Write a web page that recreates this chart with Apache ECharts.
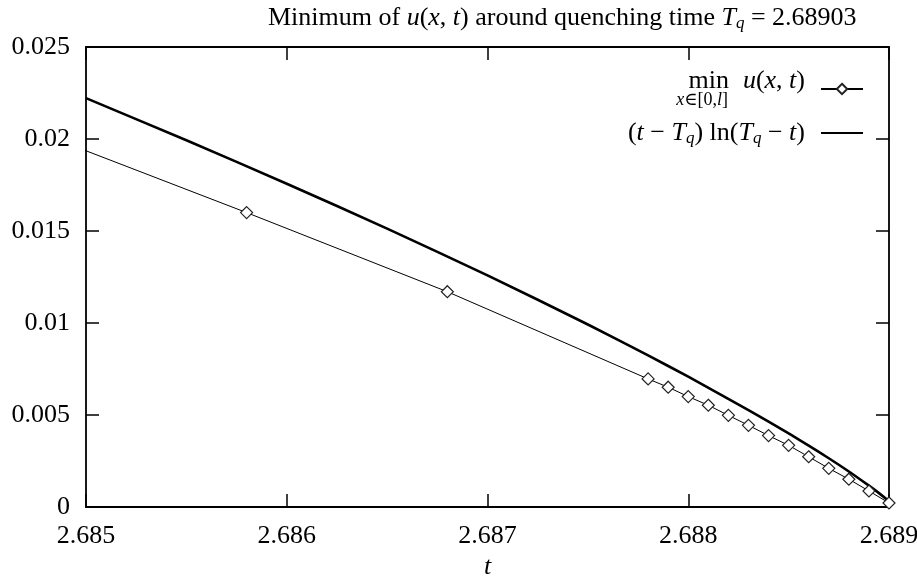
<!DOCTYPE html>
<html>
<head>
<meta charset="utf-8">
<script src="https://cdn.jsdelivr.net/npm/echarts@6/dist/echarts.min.js"></script>
<style>
  html, body { margin: 0; padding: 0; background: #fff; }
  #chart { width: 917px; height: 577px; }
</style>
</head>
<body>
<div id="chart"></div>
<script>
// measured minimum of u(x,t)
const minT = [2.6848, 2.6858, 2.6868, 2.6878, 2.6879, 2.6880, 2.6881, 2.6882, 2.6883, 2.6884,
              2.6885, 2.6886, 2.6887, 2.6888, 2.6889, 2.6890, 2.68901, 2.68902, 2.68903];
const minU = [0.0202, 0.0160, 0.0117, 0.00696, 0.00651, 0.00600, 0.00553, 0.00498, 0.00444, 0.00388,
              0.00335, 0.00273, 0.00210, 0.00151, 0.00087, 0.00022, 0.00015, 0.00008, 0.0];

// (t - Tq) ln(Tq - t)
const fitT = [2.685, 2.6855, 2.686, 2.6865, 2.687, 2.6875, 2.6878, 2.688, 2.6883, 2.6885,
              2.6886, 2.6887, 2.6888, 2.6889, 2.68895, 2.6890, 2.68902, 2.68903];
const fitU = [0.02222, 0.01993, 0.01757, 0.01513, 0.01259, 0.00992, 0.00824, 0.00708, 0.00527, 0.00400,
              0.00333, 0.00265, 0.00193, 0.00116, 0.000755, 0.00031, 0.000115, 0.0];

const xMin = 2.685, xMax = 2.689, xStep = 0.001;
const yMin = 0, yMax = 0.025, yStep = 0.005;

const FONT = '"Liberation Serif", "DejaVu Serif", serif';
const FS = 26;
const chart = echarts.init(document.getElementById('chart'));

const tickStyle = { show: true, inside: true, length: 13, lineStyle: { color: '#000', width: 1.5 } };
const lineStyle = { lineStyle: { color: '#000', width: 1.8 } };

function xAxis(pos, labels) {
  return {
    type: 'value', position: pos, min: xMin, max: xMax, interval: xStep,
    axisLine: { show: true, onZero: false, ...lineStyle },
    axisTick: tickStyle,
    splitLine: { show: false },
    axisLabel: {
      show: labels, margin: 16, color: '#000', fontFamily: FONT, fontSize: FS,
      formatter: v => v.toFixed(3)
    },
    name: labels ? 't' : '', nameLocation: 'middle', nameGap: 45,
    nameTextStyle: { color: '#000', fontFamily: FONT, fontSize: FS, fontStyle: 'italic' }
  };
}
function yAxis(pos, labels) {
  return {
    type: 'value', position: pos, min: yMin, max: yMax, interval: yStep,
    axisLine: { show: true, onZero: false, ...lineStyle },
    axisTick: tickStyle,
    splitLine: { show: false },
    axisLabel: {
      show: labels, margin: 16, color: '#000', fontFamily: FONT, fontSize: FS,
      formatter: v => String(+v.toFixed(3))
    }
  };
}

const rich = {
  i: { fontStyle: 'italic', fontFamily: FONT, fontSize: FS, lineHeight: 28, color: '#000' },
  s: { fontStyle: 'italic', fontFamily: FONT, fontSize: 17, lineHeight: 14, verticalAlign: 'bottom', color: '#000' },
  li: { fontStyle: 'italic', fontFamily: FONT, fontSize: FS, lineHeight: 22, color: '#000' },
  ms: { width: 14, lineHeight: 22 },
  sub: { fontFamily: FONT, fontSize: 18, lineHeight: 16, color: '#000' },
  subi: { fontFamily: FONT, fontSize: 18, lineHeight: 16, color: '#000', fontStyle: 'italic' },
  gap: { width: 77, lineHeight: 16 }
};

const option = {
  animation: false,
  backgroundColor: '#fff',
  title: {
    text: 'Minimum of {i|u}({i|x}, {i|t}) around quenching time {i|T}{s|q} = 2.68903',
    left: 263, top: -1,
    textStyle: { color: '#000', fontFamily: FONT, fontSize: FS, fontWeight: 'normal', lineHeight: 28, rich: rich }
  },
  grid: { left: 86, right: 28, top: 47, bottom: 70, containLabel: false, outerBoundsMode: 'none' },
  legend: {
    orient: 'vertical', right: 48, top: 63, align: 'right',
    itemWidth: 42, itemHeight: 13, itemGap: 6,
    textStyle: { color: '#000', fontFamily: FONT, fontSize: FS, lineHeight: 22, padding: [0, 11, 0, 0], rich: rich },
    formatter: name => name === 'min'
      ? 'min{ms| }{li|u}({li|x}, {li|t})\n{subi|x}{sub|∈[0,}{subi|l}{sub|]}{gap| }'
      : '({i|t} − {i|T}{s|q}) ln({i|T}{s|q} − {i|t})',
    data: [{ name: 'min' }, { name: 'fit', itemStyle: { opacity: 0 } }]
  },
  xAxis: [xAxis('bottom', true), xAxis('top', false)],
  yAxis: [yAxis('left', true), yAxis('right', false)],
  series: [
    {
      name: 'min', type: 'line', xAxisIndex: 0, yAxisIndex: 0,
      data: minT.map((t, k) => [t, minU[k]]),
      showAllSymbol: true, symbol: 'diamond', symbolSize: 12,
      itemStyle: { color: '#fff', borderColor: '#222', borderWidth: 1.2 },
      lineStyle: { color: '#000', width: 1 },
      z: 3
    },
    {
      name: 'fit', type: 'line', xAxisIndex: 0, yAxisIndex: 0,
      data: fitT.map((t, k) => [t, fitU[k]]),
      showSymbol: false, symbol: 'none', smooth: 0.2,
      itemStyle: { color: '#000' },
      lineStyle: { color: '#000', width: 2.6 },
      z: 2
    }
  ]
};
chart.setOption(option);
</script>
</body>
</html>
